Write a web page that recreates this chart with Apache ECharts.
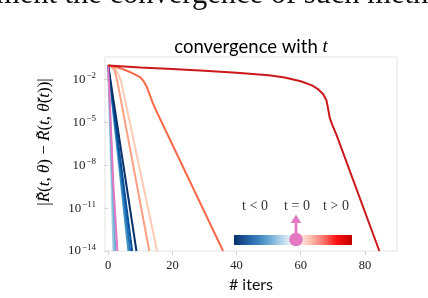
<!DOCTYPE html>
<html>
<head>
<meta charset="utf-8">
<script src="https://cdn.jsdelivr.net/npm/echarts@6/dist/echarts.min.js"></script>
<style>html,body{margin:0;padding:0;background:#fff;}#c{width:428px;height:298px;}</style>
</head>
<body>
<div id="c"></div>
<script>
// x: iteration, y: log10 of |R(t,theta) - R(t,theta_check(t))|
const xTicks = [0, 20, 40, 60, 80];
const yTicks = [-14, -11, -8, -5, -2];

const blue1 = [[0, -1.02], [1.65, -14]];
const blue2 = [[0, -1.02], [2.2, -14]];
const blue3 = [[0, -1.02], [6.3, -14]];
const blue4 = [[0, -1.02], [6.85, -14]];
const blue5 = [[0, -1.02], [7.45, -14]];
const blue6 = [[0, -1.02], [8.8, -14]];
const pink0 = [[0, -1.02], [1.6, -9.3], [2.86, -14]];
const red1 = [[0, -1.02], [1, -1.05], [2, -1.2], [3, -1.55], [4, -2.1], [15.24, -14]];
const red2 = [[0, -1.02], [1, -1.08], [2, -1.35], [3, -2.3], [12.8, -14]];
const red3 = [[0, -1.02], [2, -1.1], [4, -1.22], [6, -1.4], [8, -1.6], [10, -1.85], [11, -2.1], [12, -2.5], [13, -3.1], [14, -3.7], [15, -4.2], [35.8, -14]];
const red4 = [[0, -1.02], [10, -1.15], [20, -1.26], [30, -1.38], [40, -1.52], [50, -1.7], [55, -1.86], [60, -2.12], [63.5, -2.41], [65.5, -2.69], [67, -3.03], [68, -3.45], [68.5, -4.0], [69, -4.65], [69.8, -5.15], [71.2, -5.9], [84.5, -14]];

const lines = [
  {d: blue1, c: '#9ecae1'}, {d: blue2, c: '#6baed6'}, {d: blue3, c: '#4292c6'},
  {d: blue4, c: '#2171b5'}, {d: blue5, c: '#08519c'}, {d: blue6, c: '#08306b'},
  {d: pink0, c: '#e377c2'},
  {d: red1, c: '#fdcbb6'}, {d: red2, c: '#fca083'}, {d: red3, c: '#fb6a4a'}, {d: red4, c: '#cb181d'}
];

const chart = echarts.init(document.getElementById('c'), null, {renderer: 'canvas'});
const serif = '"Liberation Serif", "DejaVu Serif", serif';
const sans = 'Lato, "Noto Sans", sans-serif';
const pink = '#e377c2';

chart.setOption({
  backgroundColor: '#fff',
  animation: false,
  grid: {left: 105, right: 31, top: 57, bottom: 43, show: true, borderColor: '#e3e3e3', borderWidth: 1, backgroundColor: '#fff'},
  xAxis: {
    type: 'value', min: -1, max: 90,
    name: '# iters', nameLocation: 'middle', nameGap: 26,
    nameTextStyle: {fontFamily: sans, fontSize: 16, color: '#111'},
    axisLine: {show: false},
    axisTick: {show: true, length: 4, lineStyle: {color: '#d6d6d6'}, customValues: xTicks},
    axisLabel: {customValues: xTicks, margin: 8, fontFamily: serif, fontSize: 12.5, color: '#222'},
    splitLine: {show: false}
  },
  yAxis: {
    type: 'value', min: -14, max: -0.42,
    axisLine: {show: false},
    axisTick: {show: true, length: 4, lineStyle: {color: '#d6d6d6'}, customValues: yTicks},
    axisLabel: {
      customValues: yTicks, margin: 9,
      formatter: v => '{b|10}{s|−' + Math.round(-v) + '}',
      rich: {
        b: {fontFamily: serif, fontSize: 13, color: '#222', lineHeight: 16},
        s: {fontFamily: serif, fontSize: 9, color: '#222', verticalAlign: 'top', lineHeight: 16, padding: [0, 0, 6, 1]}
      }
    },
    splitLine: {show: false}
  },
  series: lines.map(l => ({
    type: 'line', data: l.d, showSymbol: false, symbol: 'none',
    lineStyle: {color: l.c, width: 2}, clip: true, silent: true
  })),
  graphic: [
    {type: 'text', style: {text: 'ment the convergence of such metho', x: -4, y: 10, textVerticalAlign: 'bottom', font: '30.5px "Liberation Serif"', fill: '#111'}},
    {type: 'text', style: {
      text: '{a|convergence with }{t|t}', x: 251, y: 47, textAlign: 'center', textVerticalAlign: 'middle',
      rich: {
        a: {fontFamily: sans, fontSize: 18.5, color: '#111'},
        t: {fontFamily: serif, fontStyle: 'italic', fontSize: 19, color: '#111'}
      }
    }},
    {type: 'text', rotation: Math.PI / 2, x: 45, y: 142, style: {
      text: '{n||}{i|R̃}{n|(}{i|t}{n|, }{i|θ}{n|) − }{i|R̃}{n|(}{i|t}{n|, }{i|θ̌}{n|(}{i|t}{n|))|}',
      x: 0, y: 0, textAlign: 'center', textVerticalAlign: 'middle',
      rich: {
        n: {fontFamily: serif, fontSize: 17, color: '#111'},
        i: {fontFamily: serif, fontStyle: 'italic', fontSize: 17, color: '#111'}
      }
    }},
    {type: 'rect', shape: {x: 234, y: 235, width: 118, height: 10}, style: {fill: {type: 'linear', x: 0, y: 0, x2: 1, y2: 0, colorStops: [
      {offset: 0, color: '#08306b'}, {offset: 0.1, color: '#1f5a9c'}, {offset: 0.2, color: '#3a80bd'},
      {offset: 0.3, color: '#6ba9d4'}, {offset: 0.4, color: '#b3d3ea'}, {offset: 0.5, color: '#f5f9fd'},
      {offset: 0.55, color: '#fff2ee'}, {offset: 0.65, color: '#fdbcae'}, {offset: 0.75, color: '#f97a73'},
      {offset: 0.87, color: '#fa1010'}, {offset: 1, color: '#c40000'}]}}, z: 10},
    {type: 'circle', shape: {cx: 296, cy: 239.5, r: 6.8}, style: {fill: pink}, z: 11},
    {type: 'rect', shape: {x: 294.6, y: 221, width: 2.8, height: 12}, style: {fill: pink}, z: 11},
    {type: 'polygon', shape: {points: [[290.8, 223], [301.2, 223], [296, 214.5]]}, style: {fill: pink}, z: 11},
    {type: 'text', style: {text: 't < 0', x: 255, y: 206, textAlign: 'center', textVerticalAlign: 'middle', font: '14px "Liberation Serif"', fill: '#333'}, z: 11},
    {type: 'text', style: {text: 't = 0', x: 297, y: 206, textAlign: 'center', textVerticalAlign: 'middle', font: '14px "Liberation Serif"', fill: '#333'}, z: 11},
    {type: 'text', style: {text: 't > 0', x: 336, y: 206, textAlign: 'center', textVerticalAlign: 'middle', font: '14px "Liberation Serif"', fill: '#333'}, z: 11}
  ]
});
</script>
</body>
</html>
